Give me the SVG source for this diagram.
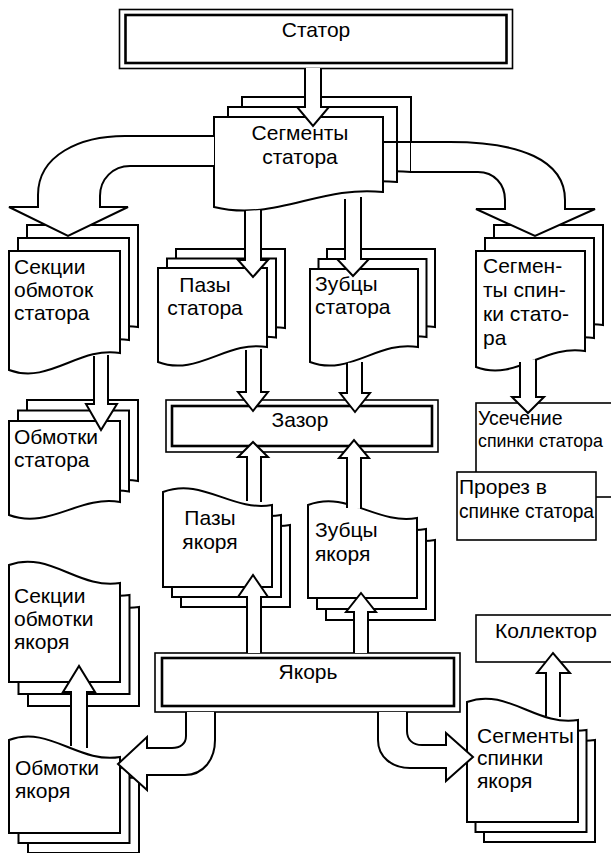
<svg xmlns="http://www.w3.org/2000/svg" width="611" height="853" viewBox="0 0 611 853">
<style>
.pg{fill:#fff;stroke:#000;stroke-width:2;stroke-linejoin:miter}
.bx{fill:#fff;stroke:#000;stroke-width:1.6}
.o{fill:#fff;stroke:#000;stroke-width:1.6}
.i{fill:none;stroke:#000;stroke-width:2.6}
.ar{fill:#fff;stroke:#000;stroke-width:2;stroke-linejoin:miter}
.ln{fill:none;stroke:#000;stroke-width:2}
text{font-family:"Liberation Sans",Arial,sans-serif;font-size:21px;fill:#000}
.c{text-anchor:middle}
.s{font-size:19.5px}
.t{font-size:17.8px}
</style>
<rect width="611" height="853" fill="#fff"/>
<g id="nodes">
<g id="stator">
<rect class="o" x="119.5" y="9.5" width="393" height="59"/>
<rect class="i" x="125.5" y="15" width="381" height="48"/>
<text class="c" x="316" y="37">Статор</text>
</g>
<g id="segments-stator">
<path class="pg" transform="translate(28,-20)" d="M214,117 H383 V192 C320.5,185 274.8,222 214,207 Z"/>
<path class="pg" transform="translate(14,-10)" d="M214,117 H383 V192 C320.5,185 274.8,222 214,207 Z"/>
<path class="pg" d="M214,117 H383 V192 C320.5,185 274.8,222 214,207 Z"/>
<text class="c" x="300" y="140">Сегменты</text>
<text class="c" x="300" y="164">статора</text>
</g>
<g id="sections-stator">
<path class="pg" transform="translate(18,-26)" d="M9,251 H120 V353 C78.9,346 49,385 9,370 Z"/>
<path class="pg" transform="translate(9,-13)" d="M9,251 H120 V353 C78.9,346 49,385 9,370 Z"/>
<path class="pg" d="M9,251 H120 V353 C78.9,346 49,385 9,370 Z"/>
<text x="14" y="274">Секции</text>
<text x="14" y="297">обмоток</text>
<text x="14" y="320">статора</text>
</g>
<g id="windings-stator">
<path class="pg" transform="translate(18,-21)" d="M9,421 H120 V502 C78.9,495 49,530 9,515 Z"/>
<path class="pg" transform="translate(9,-10.5)" d="M9,421 H120 V502 C78.9,495 49,530 9,515 Z"/>
<path class="pg" d="M9,421 H120 V502 C78.9,495 49,530 9,515 Z"/>
<text x="14" y="444">Обмотки</text>
<text x="14" y="467">статора</text>
</g>
<g id="slots-stator">
<path class="pg" transform="translate(18,-19)" d="M158,268 H267 V347 C226.7,340 197.2,377 158,362 Z"/>
<path class="pg" transform="translate(9,-9.5)" d="M158,268 H267 V347 C226.7,340 197.2,377 158,362 Z"/>
<path class="pg" d="M158,268 H267 V347 C226.7,340 197.2,377 158,362 Z"/>
<text class="c" x="205" y="292">Пазы</text>
<text class="c" x="205" y="315">статора</text>
</g>
<g id="teeth-stator">
<path class="pg" transform="translate(17,-20)" d="M310,269 H418 V347 C378,340 349,377 310,362 Z"/>
<path class="pg" transform="translate(8.5,-10)" d="M310,269 H418 V347 C378,340 349,377 310,362 Z"/>
<path class="pg" d="M310,269 H418 V347 C378,340 349,377 310,362 Z"/>
<text x="315" y="291">Зубцы</text>
<text x="315" y="314">статора</text>
</g>
<g id="yoke-segments-stator">
<path class="pg" transform="translate(18,-26)" d="M476,251 H585 V351 C544.7,344 515.2,382 476,367 Z"/>
<path class="pg" transform="translate(9,-13)" d="M476,251 H585 V351 C544.7,344 515.2,382 476,367 Z"/>
<path class="pg" d="M476,251 H585 V351 C544.7,344 515.2,382 476,367 Z"/>
<text x="483" y="273">Сегмен-</text>
<text x="483" y="297">ты спин-</text>
<text x="483" y="321">ки стато-</text>
<text x="483" y="345">ра</text>
</g>
<g id="gap">
<rect class="o" x="166" y="400" width="272" height="52"/>
<rect class="i" x="172" y="406" width="260" height="40"/>
<text class="c" x="300" y="427">Зазор</text>
</g>
<g id="yoke-cut">
<rect class="bx" x="476" y="403" width="150" height="94"/>
<text class="s" x="478" y="425">Усечение</text>
<text class="t" x="478" y="447">спинки статора</text>
</g>
<g id="yoke-slot">
<rect class="bx" x="457" y="472" width="139" height="68"/>
<text x="459" y="494">Прорез в</text>
<text x="459" y="518" textLength="135" lengthAdjust="spacingAndGlyphs">спинке статора</text>
</g>
<g id="slots-armature">
<path class="pg" transform="translate(18,20)" d="M163,492 C202.2,477 231.7,512 272,505 V587 H163 Z"/>
<path class="pg" transform="translate(9,10)" d="M163,492 C202.2,477 231.7,512 272,505 V587 H163 Z"/>
<path class="pg" d="M163,492 C202.2,477 231.7,512 272,505 V587 H163 Z"/>
<text class="c" x="210" y="525">Пазы</text>
<text class="c" x="210" y="549">якоря</text>
</g>
<g id="teeth-armature">
<path class="pg" transform="translate(18,22)" d="M308,505 C347.2,490 376.7,525 417,518 V598 H308 Z"/>
<path class="pg" transform="translate(9,11)" d="M308,505 C347.2,490 376.7,525 417,518 V598 H308 Z"/>
<path class="pg" d="M308,505 C347.2,490 376.7,525 417,518 V598 H308 Z"/>
<text x="315" y="537">Зубцы</text>
<text x="315" y="561">якоря</text>
</g>
<g id="sections-armature">
<path class="pg" transform="translate(19,24)" d="M9,565 C49,550 78.9,590 120,583 V682 H9 Z"/>
<path class="pg" transform="translate(9.5,12)" d="M9,565 C49,550 78.9,590 120,583 V682 H9 Z"/>
<path class="pg" d="M9,565 C49,550 78.9,590 120,583 V682 H9 Z"/>
<text x="14" y="603">Секции</text>
<text x="14" y="626">обмотки</text>
<text x="14" y="649">якоря</text>
</g>
<g id="collector">
<rect class="bx" x="476" y="615" width="150" height="47"/>
<text class="c" x="546" y="638">Коллектор</text>
</g>
<g id="armature">
<rect class="o" x="155" y="653" width="305" height="59"/>
<rect class="i" x="162" y="658" width="292" height="48"/>
<text class="c" x="308" y="679">Якорь</text>
</g>
<g id="windings-armature">
<path class="pg" transform="translate(19,20)" d="M9,740 C49,725 78.9,764 120,757 V833 H9 Z"/>
<path class="pg" transform="translate(9.5,10)" d="M9,740 C49,725 78.9,764 120,757 V833 H9 Z"/>
<path class="pg" d="M9,740 C49,725 78.9,764 120,757 V833 H9 Z"/>
<text x="15" y="775">Обмотки</text>
<text x="15" y="798">якоря</text>
</g>
<g id="yoke-segments-armature">
<path class="pg" transform="translate(17,20)" d="M467,702 C507,687 536.9,727 578,720 V822 H467 Z"/>
<path class="pg" transform="translate(8.5,10)" d="M467,702 C507,687 536.9,727 578,720 V822 H467 Z"/>
<path class="pg" d="M467,702 C507,687 536.9,727 578,720 V822 H467 Z"/>
<text x="477" y="743">Сегменты</text>
<text x="477" y="765">спинки</text>
<text x="477" y="788">якоря</text>
</g>
</g>
<g id="connectors">
<path class="ar" d="M305,68 V107 H297 L313,126 L329,107 H321 V68"/>
<path class="ar" d="M214,136 H125 C80,136 38,155 38,195 V207 H9 L68,236 L128,207 H100 V196 C100,179 113,166 130,166 H214"/>
<path class="ar" d="M411,142 H450 C520,142 565,160 565,200 V209 H595 L535,236 L476,209 H505 V200 C505,184 494,172 478,172 H411"/>
<path class="ln" d="M383,142 H411"/>
<path class="ar" d="M245,211 V260 H238 L253,277 L268,260 H261 V210"/>
<path class="ar" d="M345,199 V259 H337 L353,276 L369,259 H361 V197"/>
<path class="ar" d="M94,356 V404 H86 L101,430 L117,404 H108 V355"/>
<path class="ar" d="M246,350 V392 H238 L253,411 L268,392 H261 V349"/>
<path class="ar" d="M347,363 V393 H340 L355,412 L370,393 H362 V362"/>
<path class="ar" d="M520,362 V397 H512 L528,413 L544,397 H536 V359"/>
<path class="ar" d="M247,501 V457 H238 L253,442 L268,457 H261 V502"/>
<path class="ar" d="M347,508 V458 H339 L354,440 L369,458 H361 V509"/>
<path class="ar" d="M247,653 V597 H238 L253,575 L268,597 H261 V653"/>
<path class="ar" d="M354,653 V612 H346 L361,593 L376,612 H368 V653"/>
<path class="ar" d="M186,712 V736 C186,744 180,748 172,748 H147 V737 L118,764 L147,790 V775 H185 C203,775 215,760 215,740 V712"/>
<path class="ar" d="M407,712 V731 C407,740 413,745 422,745 H446 V733 L473,757 L446,781 V768 H410 C392,768 378,757 378,740 V712"/>
<path class="ar" d="M546,716 V673 H537 L553,653 L570,673 H560 V717"/>
<path class="ar" d="M71,746 V692 H63 L79,666 L95,692 H87 V748"/>
</g>
</svg>
